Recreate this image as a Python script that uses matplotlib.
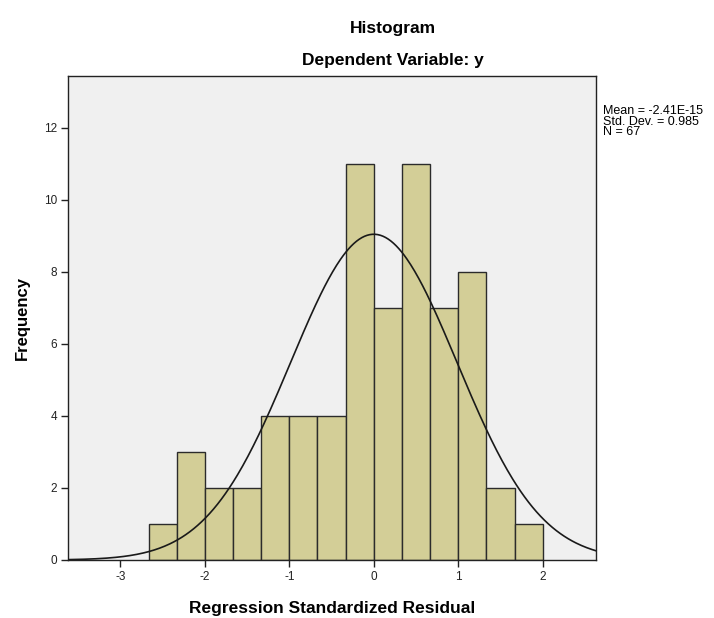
import numpy as np
import matplotlib
matplotlib.use("Agg")
import matplotlib.pyplot as plt

# histogram data (Regression Standardized Residual)
bin_start = -8 / 3
bin_width = 1 / 3
counts = [1, 3, 2, 2, 4, 4, 4, 11, 7, 11, 7, 8, 2, 1]

mean = -2.41e-15
std_dev = 0.985
n_obs = 67

x_ticks = [-3, -2, -1, 0, 1, 2]
y_ticks = [0, 2, 4, 6, 8, 10, 12]

plt.rcParams['font.family'] = ['Liberation Sans', 'DejaVu Sans']
plt.rcParams['axes.unicode_minus'] = False

fig = plt.figure(figsize=(7.14, 6.18), dpi=100)
ax = fig.add_axes([68 / 714, 1 - 560 / 618, 528 / 714, 484 / 618])
ax.set_facecolor('#f0f0f0')

edges = bin_start + bin_width * np.arange(len(counts) + 1)
ax.bar(edges[:-1], counts, width=bin_width, align='edge',
       color='#d3ce97', edgecolor='#2b2b2b', linewidth=1.0, zorder=2)

# normal curve with the sample mean / sd, scaled to counts
xs = np.linspace(-3.62, 2.63, 400)
ys = n_obs * bin_width / (std_dev * np.sqrt(2 * np.pi)) * \
    np.exp(-0.5 * ((xs - mean) / std_dev) ** 2)
ax.plot(xs, ys, c='#1a1a1a', lw=1.2, zorder=3)

ax.set_xlim(-3.62, 2.63)
ax.set_ylim(0, 13.44)
ax.set_xticks(x_ticks)
ax.set_yticks(y_ticks)
ax.tick_params(direction='out', length=5, width=1, labelsize=8.5, pad=3,
               colors='#222222')
for s in ax.spines.values():
    s.set_color('#222222')
    s.set_linewidth(1.0)

ax.set_xlabel('Regression Standardized Residual', fontsize=12.5,
              fontweight='bold', labelpad=13)
ax.set_ylabel('Frequency', fontsize=12, fontweight='bold', labelpad=10)

fig.text(393 / 714, 1 - 28 / 618, 'Histogram', ha='center', va='center',
         fontsize=12.5, fontweight='bold')
fig.text(393 / 714, 1 - 61 / 618, 'Dependent Variable: y', ha='center',
         va='center', fontsize=12.5, fontweight='bold')

fig.text(603 / 714, 1 - 105 / 618,
         f'Mean = -2.41E-15\nStd. Dev. = {std_dev}\nN = {n_obs}',
         ha='left', va='top', fontsize=9, linespacing=0.85)

fig.savefig('out.png', dpi=100)
